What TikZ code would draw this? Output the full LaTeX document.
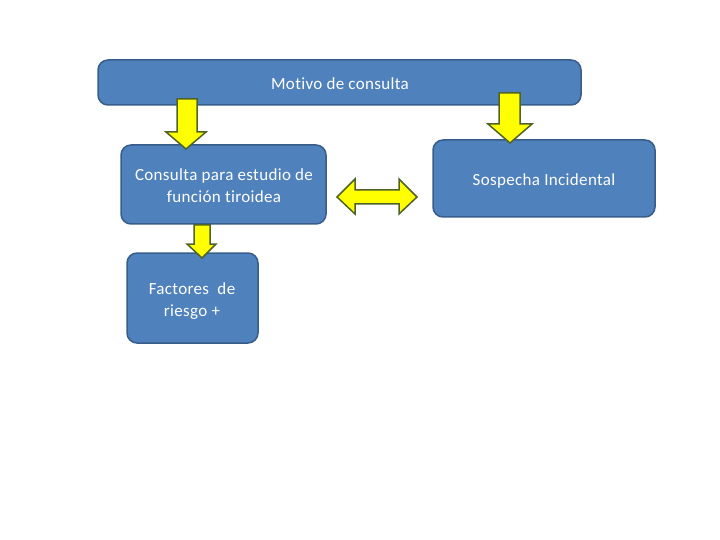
\documentclass[tikz,border=0pt]{standalone}
\usepackage{fontspec}
\setmainfont{Carlito}[Ligatures=NoCommon,LetterSpace=2]
\definecolor{boxfill}{HTML}{4F81BD}
\definecolor{boxline}{HTML}{385D8A}
\definecolor{arrfill}{HTML}{FFFF00}
\definecolor{arrline}{HTML}{4F6228}
\begin{document}
\begin{tikzpicture}[x=1pt,y=-1pt,
  box/.style={draw=boxline,line width=1.5pt,fill=boxfill,rounded corners=10pt},
  boxtext/.style={text=white,font=\fontsize{17}{22}\selectfont,align=center,inner sep=0pt},
  yarrow/.style={draw=arrline,line width=1.5pt,fill=arrfill,line join=miter}]
\useasboundingbox (0,0) rectangle (720,540);
% boxes
\draw[box] (98,60) rectangle (581,105);
\node[boxtext] (motivo) at (340,84) {Motivo de consulta};
\draw[box] (121,145) rectangle (326,224);
\node[boxtext] (consulta) at (224,186) {Consulta para estudio de\\función tiroidea};
\draw[box] (127,253) rectangle (258,343);
\node[boxtext] (factores) at (192,301) {Factores\ \ de\\riesgo +};
\draw[box] (433,140) rectangle (655,217);
\node[boxtext] (sospecha) at (544,181) {Sospecha Incidental};
% down arrows
\draw[yarrow] (177,99) -- (197,99) -- (197,132) -- (206,132) -- (186,149) -- (166,132) -- (177,132) -- cycle;
\draw[yarrow] (499,93) -- (520,93) -- (520,124) -- (532,124) -- (510,143) -- (488,124) -- (499,124) -- cycle;
\draw[yarrow] (194,225) -- (210,225) -- (210,244) -- (216,244) -- (202,258) -- (187,244) -- (194,244) -- cycle;
% double arrow
\draw[yarrow] (337,197) -- (355,179) -- (355,190) -- (399,190) -- (399,179) -- (417,197) -- (399,214) -- (399,204) -- (355,204) -- (355,214) -- cycle;
\end{tikzpicture}
\end{document}
